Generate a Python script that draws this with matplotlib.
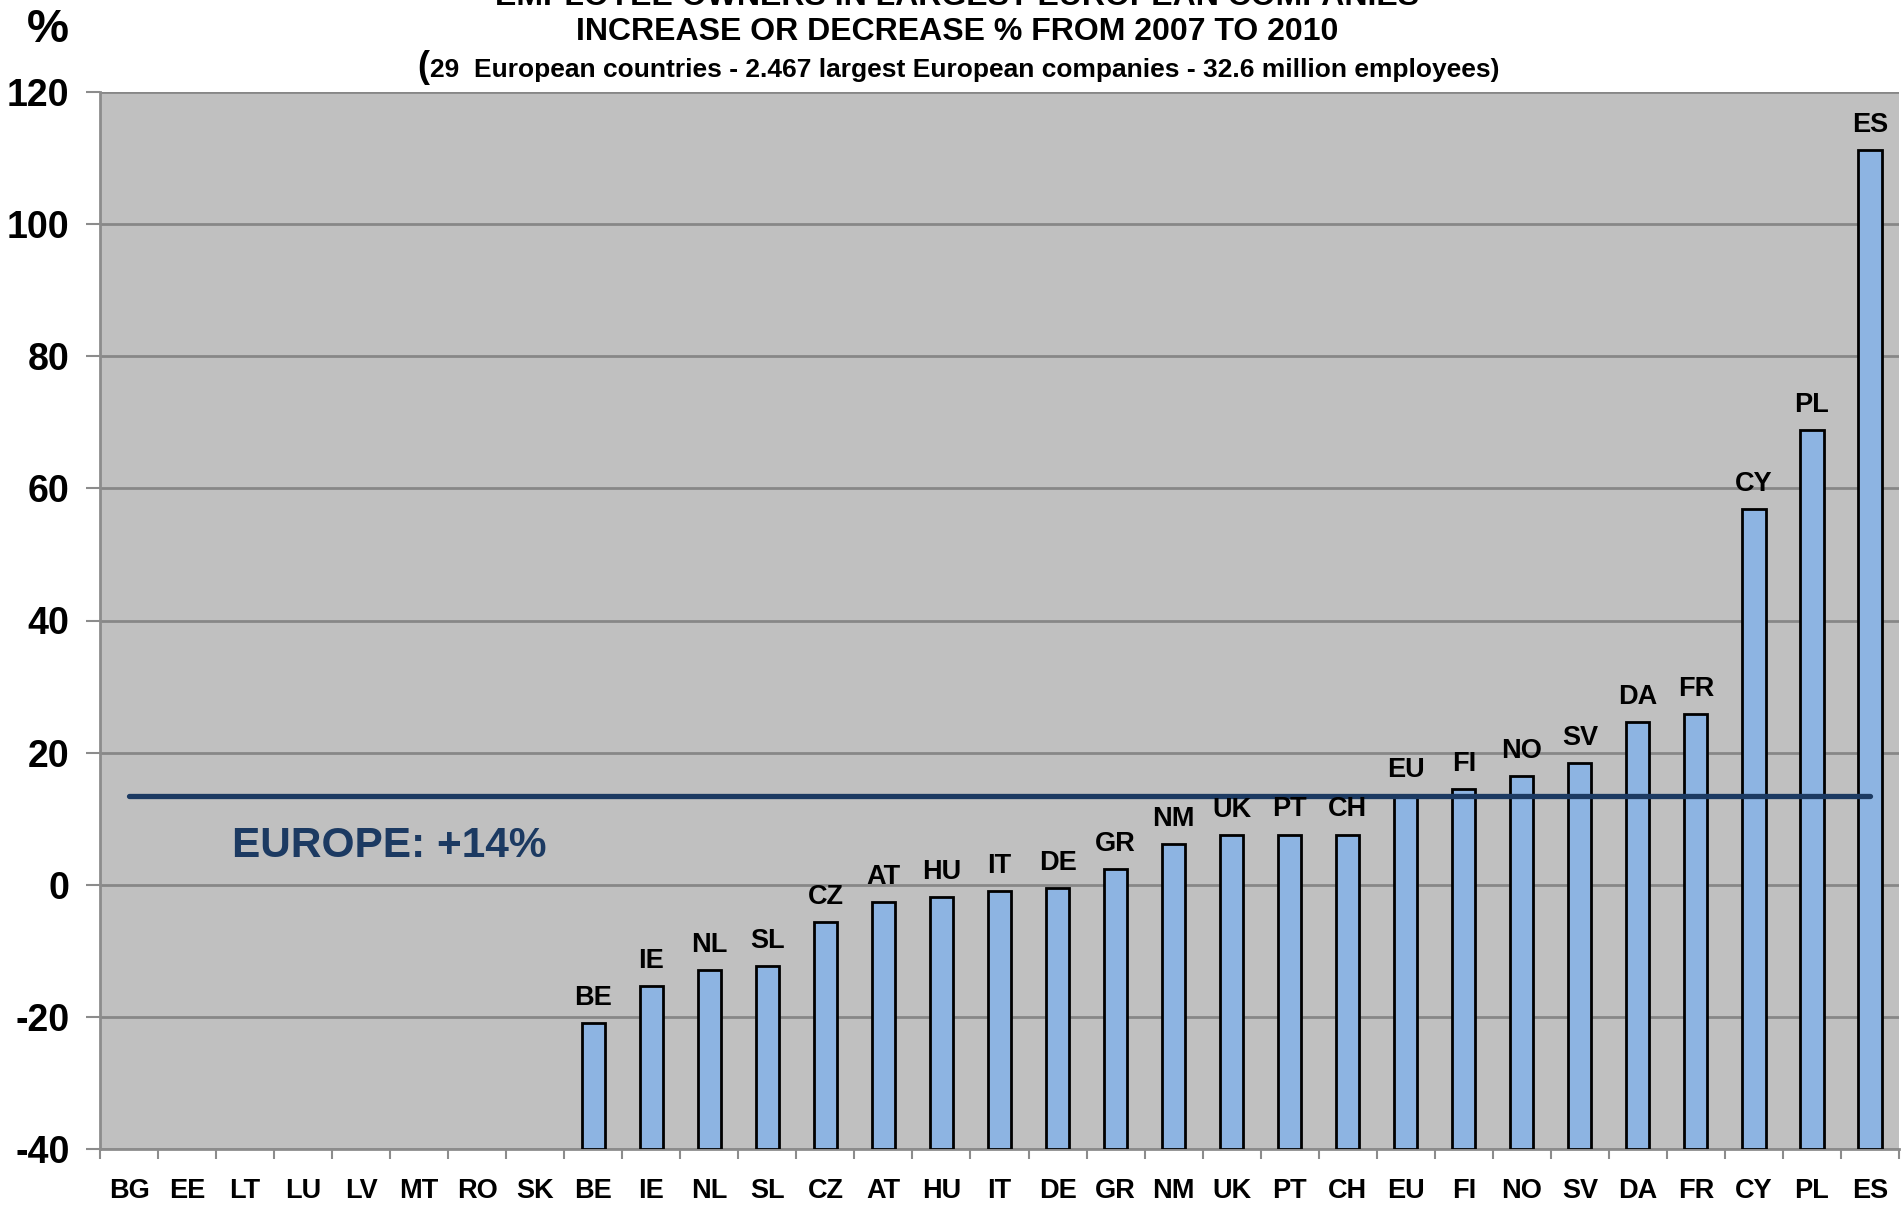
import numpy as np
import matplotlib
matplotlib.use("Agg")
import matplotlib.pyplot as plt

plt.rcParams["font.family"] = ["Liberation Sans", "DejaVu Sans"]
plt.rcParams["font.weight"] = "bold"

# Data (% change in employee owners, 2007 -> 2010); nan = no bar shown
countries = ["BG", "EE", "LT", "LU", "LV", "MT", "RO", "SK", "BE", "IE",
             "NL", "SL", "CZ", "AT", "HU", "IT", "DE", "GR", "NM", "UK",
             "PT", "CH", "EU", "FI", "NO", "SV", "DA", "FR", "CY", "PL", "ES"]
values = [np.nan] * 8 + [-21.0, -15.4, -12.9, -12.3, -5.7, -2.6, -1.8, -1.0,
                         -0.5, 2.4, 6.2, 7.5, 7.6, 7.6, 13.6, 14.5, 16.4,
                         18.4, 24.7, 25.9, 56.9, 68.9, 111.2]
europe_avg = 13.5
y_ticks = [-40, -20, 0, 20, 40, 60, 80, 100, 120]

navy = "#1c3a62"
bar_color = "#8db4e2"

fig = plt.figure(figsize=(19.02, 12.07), dpi=100)
ax = fig.add_axes([100 / 1902, 1 - 1149 / 1207, 1799 / 1902, 1057 / 1207])
ax.set_facecolor("#c0c0c0")

x = np.arange(len(countries))
vals = np.array(values, dtype=float)
base = y_ticks[0]
ax.bar(x, vals - base, bottom=base, width=0.4, color=bar_color,
       edgecolor="black", linewidth=2, zorder=3)

for xi, v, name in zip(x, vals, countries):
    if np.isnan(v):
        continue
    ax.annotate(name, (xi, v), xytext=(0, 13), textcoords="offset points",
                ha="center", va="baseline", fontsize=19.5, fontweight="bold",
                zorder=5)

ax.plot([x[0], x[-1]], [europe_avg, europe_avg], color=navy, lw=3.8,
        solid_capstyle="round", zorder=4)
ax.text(1.78, 5.8, "EUROPE: +14%", color=navy, fontsize=30.5,
        fontweight="bold", ha="left", va="center", zorder=5)

ax.set_xlim(-0.5, len(countries) - 0.5)
ax.set_ylim(-40, 120)
ax.set_yticks(y_ticks)
ax.set_yticklabels([str(t) for t in y_ticks], fontsize=27, fontweight="bold")
ax.set_xticks(x)
ax.set_xticklabels(countries, fontsize=19.5, fontweight="bold")
ax.set_xticks(np.arange(-0.5, len(countries), 1), minor=True)
ax.tick_params(axis="x", which="major", length=0, pad=21)
ax.tick_params(axis="x", which="minor", length=7, width=1.5, color="#8c8c8c")
ax.tick_params(axis="y", length=10, width=1.5, color="#8c8c8c", pad=12)
ax.yaxis.grid(True, color="#878787", lw=2, zorder=0)
ax.set_axisbelow(True)
for s in ["top", "right"]:
    ax.spines[s].set_visible(False)
for s in ["left", "bottom"]:
    ax.spines[s].set_color("#8c8c8c")
    ax.spines[s].set_linewidth(2)

fig.text(0.503, 0.996, "EMPLOYEE OWNERS IN LARGEST EUROPEAN COMPANIES",
         ha="center", va="baseline", fontsize=23, fontweight="bold")
fig.text(0.503, 0.9665, "INCREASE OR DECREASE % FROM 2007 TO 2010",
         ha="center", va="baseline", fontsize=23, fontweight="bold")
sub = fig.text(0.507, 0.9365,
               "29  European countries - 2.467 largest European companies - 32.6 million employees)",
               ha="center", va="baseline", fontsize=19, fontweight="bold")
renderer = fig.canvas.get_renderer()
bb = sub.get_window_extent(renderer=renderer)
fig.text(bb.x0 / fig.bbox.width, 0.9365, "(", ha="right", va="baseline",
         fontsize=26, fontweight="bold")
fig.text(0.0142, 0.965, "%", ha="left", va="baseline", fontsize=34,
         fontweight="bold")

fig.savefig("out.png", dpi=100)
